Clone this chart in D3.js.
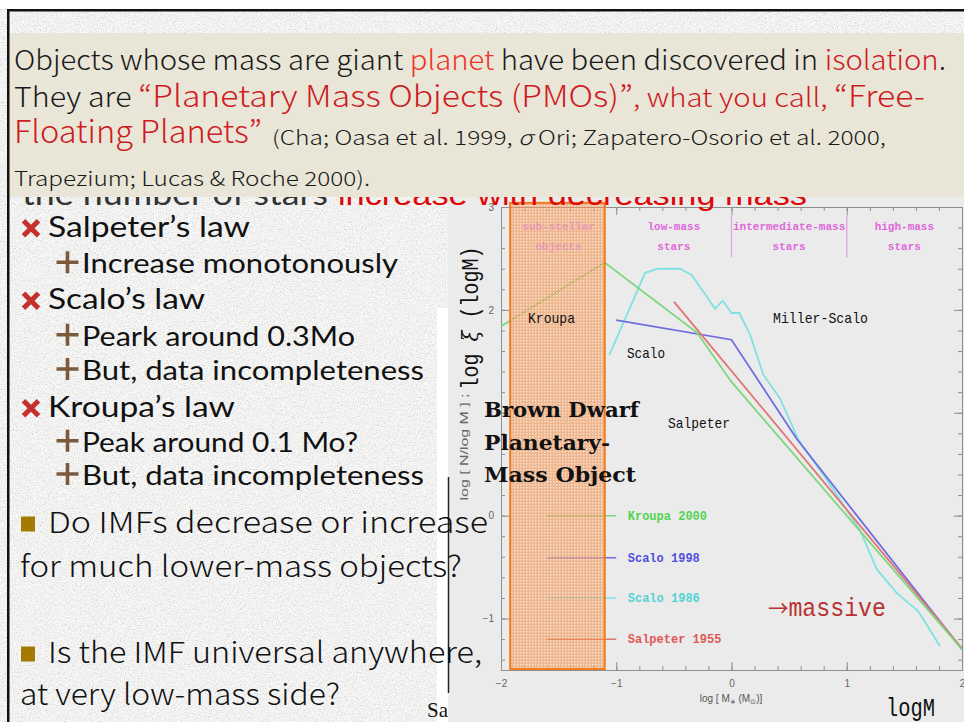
<!DOCTYPE html>
<meta charset="utf-8">
<style>
body { margin: 0; background: #fff; }
svg { display: block; }
</style>
<body>
<script src="https://cdn.jsdelivr.net/npm/d3@7"></script>
<script>
// values (log M on x, log xi on y)
var xTicks = [-2, -1, 0, 1, 2];
var yTicks = [-1, 0, 1, 2, 3];

var kroupaX = [-2, -1.1, -0.3, 0, 2];
var kroupaY = [1.84, 2.46, 1.78, 1.30, -1.30];
var salpeterX = [-0.5, 2];
var salpeterY = [2.08, -1.29];
var scalo98X = [-1.0, 0.0, 0.57, 2];
var scalo98Y = [1.90, 1.71, 0.74, -1.30];
var scalo86X = [-1.06, -0.75, -0.635, -0.447, -0.345, -0.215, -0.143, -0.076, 0.0, 0.068, 0.161, 0.276, 0.421, 0.58, 0.826, 1.115, 1.26, 1.433, 1.621, 1.809];
var scalo86Y = [1.56, 2.36, 2.40, 2.40, 2.34, 2.13, 2.01, 2.09, 1.97, 1.97, 1.76, 1.37, 1.14, 0.74, 0.35, -0.14, -0.52, -0.75, -0.93, -1.27];

var regionTop = ["sub-stellar", "low-mass", "intermediate-mass", "high-mass"];
var regionBottom = ["objects", "stars", "stars", "stars"];
var regionCenter = [-1.5, -0.5, 0.5, 1.5];
var regionBreaks = [0, 1];

var legendNames = ["Kroupa 2000", "Scalo 1998", "Scalo 1986", "Salpeter 1955"];
var legendY = [0, -0.41, -0.80, -1.20];
var subStellarX = [-1.92, -1.10];
var subStellarY = [-1.49, 3.04];

var W = 964, H = 722;

var svg = d3.select("body").append("svg")
    .attr("width", W)
    .attr("height", H);
var defs = svg.append("defs");

// paper texture of the slide
var paper = defs.append("filter").attr("id", "paper")
    .attr("x", 0).attr("y", 0).attr("width", "100%").attr("height", "100%");
paper.append("feTurbulence").attr("type", "fractalNoise")
    .attr("baseFrequency", 0.75).attr("numOctaves", 3).attr("seed", 4);
paper.append("feColorMatrix").attr("type", "matrix")
    .attr("values", "0.45 0.45 0.45 0 0.25  0.45 0.45 0.45 0 0.25  0.45 0.45 0.45 0 0.25  0 0 0 0 0.8");

// orange dotted fill of the sub-stellar box
var pat = defs.append("pattern").attr("id", "dots")
    .attr("patternUnits", "userSpaceOnUse").attr("width", 3).attr("height", 3);
pat.append("rect").attr("width", 3).attr("height", 3).attr("fill", "#ee9250").attr("fill-opacity", 0.6);
pat.append("rect").attr("x", 1).attr("y", 1).attr("width", 1.5).attr("height", 1.5).attr("fill", "#fff0e4").attr("fill-opacity", 0.7);

// slide background
svg.append("rect").attr("width", W).attr("height", H).attr("fill", "#e0e0de");
svg.append("rect").attr("y", 10).attr("width", W).attr("height", H - 10).attr("filter", "url(#paper)");
svg.append("rect").attr("width", W).attr("height", 9).attr("fill", "#fff");

// white strip + cut reference left of the figure
svg.append("rect").attr("x", 437).attr("y", 308).attr("width", 12).attr("height", H - 308).attr("fill", "#fff");
svg.append("text").attr("x", 427).attr("y", 717)
    .style("font-family", "Liberation Serif").style("font-size", "21px").attr("fill", "#111")
    .text("Salpeter 1955");

// ---------- the IMF figure ----------
var chart = svg.append("g");
chart.append("rect").attr("x", 448).attr("y", 190).attr("width", W - 448).attr("height", H - 190).attr("fill", "#ebebeb");

var x = d3.scaleLinear().domain([-2, 2]).range([501, 962]);
var y = d3.scaleLinear().domain([-1.5, 3]).range([670, 207]);

var minorX = d3.range(-2, 2.001, 0.2).map(function(d) { return +d.toFixed(1); });
var minorY = d3.range(-1.4, 3.001, 0.2).map(function(d) { return +d.toFixed(1); });
var intFmt = d3.format("d");

function styleAxis(g) {
  g.selectAll("path, line").attr("stroke", "#8e8e8e");
  g.selectAll("text").attr("fill", "#666")
      .style("font-family", "Liberation Sans").style("font-size", "10px");
}

var gb = chart.append("g").attr("transform", "translate(0," + y(-1.5) + ")");
gb.call(d3.axisBottom(x).tickValues(minorX).tickSize(-4).tickSizeOuter(0).tickFormat(""));
gb.append("g").call(d3.axisBottom(x).tickValues(xTicks).tickSize(-8).tickSizeOuter(0).tickPadding(10).tickFormat(intFmt));
styleAxis(gb);

var gt = chart.append("g").attr("transform", "translate(0," + y(3) + ")");
gt.call(d3.axisTop(x).tickValues(minorX).tickSize(-4).tickSizeOuter(0).tickFormat(""));
gt.append("g").call(d3.axisTop(x).tickValues(xTicks).tickSize(-8).tickSizeOuter(0).tickFormat(""));
styleAxis(gt);

var gl = chart.append("g").attr("transform", "translate(" + x(-2) + ",0)");
gl.call(d3.axisLeft(y).tickValues(minorY).tickSize(-4).tickSizeOuter(0).tickFormat(""));
gl.append("g").call(d3.axisLeft(y).tickValues(yTicks).tickSize(-8).tickSizeOuter(0).tickPadding(7).tickFormat(intFmt));
styleAxis(gl);

var gr = chart.append("g").attr("transform", "translate(" + x(2) + ",0)");
gr.call(d3.axisRight(y).tickValues(minorY).tickSize(-4).tickSizeOuter(0).tickFormat(""));
gr.append("g").call(d3.axisRight(y).tickValues(yTicks).tickSize(-8).tickSizeOuter(0).tickFormat(""));
styleAxis(gr);

// axis titles of the original figure
chart.append("text").attr("x", 731).attr("y", 702).attr("text-anchor", "middle")
    .style("font-family", "Liberation Sans").style("font-size", "10px").attr("fill", "#555")
    .html("log [ M<tspan font-size='7' dy='2'>∗</tspan><tspan dy='-2'> (M</tspan><tspan font-size='7' dy='2'>⊙</tspan><tspan dy='-2'>)]</tspan>");
chart.append("text").attr("transform", "translate(468,447) rotate(-90)").attr("text-anchor", "middle")
    .style("font-family", "Liberation Sans").style("font-size", "10px").attr("fill", "#666")
    .attr("textLength", 107).attr("lengthAdjust", "spacingAndGlyphs")
    .text("log [ N/log M ] ;");

// mass region separators
chart.selectAll(".rl").data(regionBreaks).enter().append("line")
    .attr("x1", function(d) { return x(d); }).attr("x2", function(d) { return x(d); })
    .attr("y1", y(2.92)).attr("y2", y(2.51))
    .attr("stroke", "#e49ce0").attr("stroke-width", 1.2);

// IMF curves
var series = [
  {name: "Scalo 1986",    xs: scalo86X,  ys: scalo86Y,  line: "#7fe2e2", label: "#52d4d4"},
  {name: "Scalo 1998",    xs: scalo98X,  ys: scalo98Y,  line: "#6e6ee2", label: "#5050e0"},
  {name: "Salpeter 1955", xs: salpeterX, ys: salpeterY, line: "#e27474", label: "#e05858"},
  {name: "Kroupa 2000",   xs: kroupaX,   ys: kroupaY,   line: "#7ed67e", label: "#52d452"}
];
var line = d3.line()
    .x(function(d) { return x(d[0]); })
    .y(function(d) { return y(d[1]); });

chart.selectAll(".imf").data(series).enter().append("path")
    .attr("d", function(d) { return line(d3.zip(d.xs, d.ys)); })
    .attr("fill", "none")
    .attr("stroke", function(d) { return d.line; })
    .attr("stroke-width", 1.8);

// legend inside the figure
var byName = {};
series.forEach(function(s) { byName[s.name] = s; });
chart.selectAll(".lgl").data(legendNames).enter().append("line")
    .attr("x1", x(-1.6)).attr("x2", x(-1.0))
    .attr("y1", function(d, i) { return y(legendY[i]); })
    .attr("y2", function(d, i) { return y(legendY[i]); })
    .attr("stroke", function(d) { return byName[d].line; })
    .attr("stroke-width", 1.5);
chart.selectAll(".lgt").data(legendNames).enter().append("text")
    .attr("x", x(-0.9))
    .attr("y", function(d, i) { return y(legendY[i]) + 4; })
    .style("font-family", "Liberation Mono").style("font-size", "12px").style("font-weight", "bold")
    .attr("fill", function(d) { return byName[d].label; })
    .text(function(d) { return d; });

// sub-stellar box pasted on top
chart.append("rect")
    .attr("x", x(subStellarX[0])).attr("y", y(subStellarY[1]))
    .attr("width", x(subStellarX[1]) - x(subStellarX[0]))
    .attr("height", y(subStellarY[0]) - y(subStellarY[1]))
    .attr("fill", "url(#dots)")
    .attr("stroke", "#f07a1c").attr("stroke-width", 2);

// mass region names (the first one shows faintly through the box)
function regionRow(names, yv) {
  chart.selectAll(null).data(names).enter().append("text")
      .attr("x", function(d, i) { return x(regionCenter[i]); })
      .attr("y", y(yv))
      .attr("text-anchor", "middle")
      .style("font-family", "Liberation Mono").style("font-size", "11px").style("font-weight", "bold")
      .attr("fill", "#e066dc")
      .attr("fill-opacity", function(d, i) { return i == 0 ? 0.45 : 1; })
      .text(function(d) { return d; });
}
regionRow(regionTop, 2.78);
regionRow(regionBottom, 2.58);

// curve names written on the figure
function mono(txt, px, py, size, w, col) {
  return chart.append("text").attr("x", px).attr("y", py)
      .style("font-family", "Liberation Mono").style("font-size", size + "px")
      .attr("fill", col).attr("textLength", w).attr("lengthAdjust", "spacingAndGlyphs")
      .text(txt);
}
mono("Kroupa", 528, 323, 15, 47, "#111");
mono("Scalo", 627, 358, 15, 38, "#111");
mono("Miller-Scalo", 773, 323, 15, 95, "#111");
mono("Salpeter", 668, 428, 15, 62, "#111");
chart.append("text").attr("x", 768).attr("y", 616)
    .style("font-family", "Liberation Mono").style("font-size", "25px").attr("fill", "#b83232")
    .attr("textLength", 118).attr("lengthAdjust", "spacingAndGlyphs")
    .html("<tspan font-family='Noto Sans CJK JP' font-size='22'>→</tspan>massive");
mono("logM", 886, 716, 25, 49, "#111");

// overlay labels
chart.append("text").attr("transform", "translate(478,318) rotate(-90)").attr("text-anchor", "middle")
    .style("font-family", "Liberation Mono").style("font-size", "23px").attr("fill", "#111")
    .attr("textLength", 143).attr("lengthAdjust", "spacingAndGlyphs")
    .html("log <tspan font-family='DejaVu Serif' font-style='italic'>ξ</tspan> (logM)");

var bd = ["Brown Dwarf", "Planetary-", "Mass Object"];
var bdW = [155, 126, 152];
chart.selectAll(".bd").data(bd).enter().append("text")
    .attr("x", 484)
    .attr("y", function(d, i) { return 417 + i * 32.5; })
    .style("font-family", "DejaVu Serif").style("font-size", "21px").style("font-weight", "bold")
    .attr("fill", "#111")
    .attr("textLength", function(d, i) { return bdW[i]; }).attr("lengthAdjust", "spacingAndGlyphs")
    .text(function(d) { return d; });

svg.append("line").attr("x1", 448.5).attr("x2", 448.5).attr("y1", 477).attr("y2", 693)
    .attr("stroke", "#222").attr("stroke-width", 1.5);

// ---------- slide text on the left ----------
var slide = svg.append("g");
var items = [
  {mark: "x",    text: "Salpeter’s law",           x: 48, base: 236.7, w: 202, size: 28},
  {mark: "plus", text: "Increase monotonously",     x: 82, base: 273.3, w: 316, size: 26},
  {mark: "x",    text: "Scalo’s law",               x: 48, base: 309.3, w: 157, size: 28},
  {mark: "plus", text: "Peark around 0.3Mo",        x: 82, base: 345.7, w: 273, size: 26},
  {mark: "plus", text: "But, data incompleteness",  x: 82, base: 380,   w: 342, size: 26},
  {mark: "x",    text: "Kroupa’s law",              x: 48, base: 416.7, w: 187, size: 28},
  {mark: "plus", text: "Peak around 0.1 Mo?",       x: 82, base: 451.7, w: 276, size: 26},
  {mark: "plus", text: "But, data incompleteness",  x: 82, base: 485,   w: 342, size: 26}
];
items.forEach(function(d) {
  slide.append("text").attr("x", d.x).attr("y", d.base)
      .style("font-family", "Lato").style("font-size", d.size + "px").attr("fill", "#111")
      .attr("textLength", d.w).attr("lengthAdjust", "spacingAndGlyphs")
      .text(d.text);
  if (d.mark == "x") {
    var cx = 31, cy = d.base - 8.5, r = 7.5;
    slide.append("path")
        .attr("d", "M" + (cx - r) + "," + (cy - r) + "L" + (cx + r) + "," + (cy + r) +
                   "M" + (cx + r) + "," + (cy - r) + "L" + (cx - r) + "," + (cy + r))
        .attr("stroke", "#c4302b").attr("stroke-width", 5);
  } else {
    var px = 67.5, py = d.base - 11, a = 11;
    slide.append("path")
        .attr("d", "M" + (px - a) + "," + py + "H" + (px + a) + "M" + px + "," + (py - a) + "V" + (py + a))
        .attr("stroke", "#7b5a3c").attr("stroke-width", 3.6);
  }
});

var questions = [
  {sq: true,  text: "Do IMFs decrease or increase",   x: 48, base: 533, w: 440},
  {sq: false, text: "for much lower-mass objects?",   x: 20, base: 577, w: 442},
  {sq: true,  text: "Is the IMF universal anywhere,", x: 48, base: 663, w: 434},
  {sq: false, text: "at very low-mass side?",         x: 20, base: 705, w: 320}
];
questions.forEach(function(d) {
  slide.append("text").attr("x", d.x).attr("y", d.base)
      .style("font-family", "'Noto Sans CJK JP'").style("font-weight", 300).style("font-size", "29px")
      .attr("fill", "#111")
      .attr("textLength", d.w).attr("lengthAdjust", "spacingAndGlyphs")
      .text(d.text);
  if (d.sq) {
    slide.append("rect").attr("x", 21).attr("y", d.base - 16.5).attr("width", 14).attr("height", 15)
        .attr("fill", "#a47a00");
  }
});

// title line mostly hidden under the box
slide.append("text").attr("x", 22).attr("y", 205)
    .style("font-family", "Lato").style("font-size", "30px").attr("fill", "#333")
    .attr("textLength", 306).attr("lengthAdjust", "spacingAndGlyphs")
    .text("the number of stars");
slide.append("text").attr("x", 338).attr("y", 205)
    .style("font-family", "Liberation Sans").style("font-size", "30px").attr("fill", "#dd0808")
    .attr("textLength", 469).attr("lengthAdjust", "spacingAndGlyphs")
    .text("increase with decreasing mass");

// ---------- beige text box on top ----------
var box = svg.append("g");
box.append("rect").attr("x", 9).attr("y", 33).attr("width", W - 9).attr("height", 164).attr("fill", "#e9e6d8");

var RED = "#cf1b22";
function boxLine(px, py, w, parts) {
  var t = box.append("text").attr("x", px).attr("y", py)
      .style("font-family", "'Noto Sans CJK JP'").style("font-weight", 300)
      .attr("textLength", w).attr("lengthAdjust", "spacingAndGlyphs");
  parts.forEach(function(p) {
    t.append("tspan").attr("fill", p[1]).style("font-size", p[2] + "px")
        .attr("font-style", p[3] ? "italic" : null).text(p[0]);
  });
}
boxLine(14, 70, 932, [
  ["Objects whose mass are giant ", "#1a1a1a", 27],
  ["planet", "#ee3328", 27],
  [" have been discovered in ", "#1a1a1a", 27],
  ["isolation", RED, 27],
  [".", "#1a1a1a", 27]
]);
boxLine(14, 107, 911, [
  ["They are ", "#1a1a1a", 27],
  ["“Planetary Mass Objects (PMOs)”", RED, 30],
  [", what you call, ", RED, 26],
  ["“Free-", RED, 30]
]);
boxLine(14, 143, 248, [["Floating Planets”", RED, 31]]);
boxLine(272, 145, 614, [
  ["(Cha; Oasa et al. 1999,  ", "#1a1a1a", 20],
  ["σ", "#1a1a1a", 20, true],
  [" Ori; Zapatero-Osorio et al. 2000,", "#1a1a1a", 20]
]);
boxLine(14, 186, 356, [["Trapezium; Lucas & Roche 2000).", "#1a1a1a", 20]]);

// slide frame
svg.append("rect").attr("x", 7).attr("y", 9).attr("width", W - 7).attr("height", 2.5).attr("fill", "#111");
svg.append("rect").attr("x", 7).attr("y", 9).attr("width", 2.5).attr("height", H - 9).attr("fill", "#111");
</script>
</body>
